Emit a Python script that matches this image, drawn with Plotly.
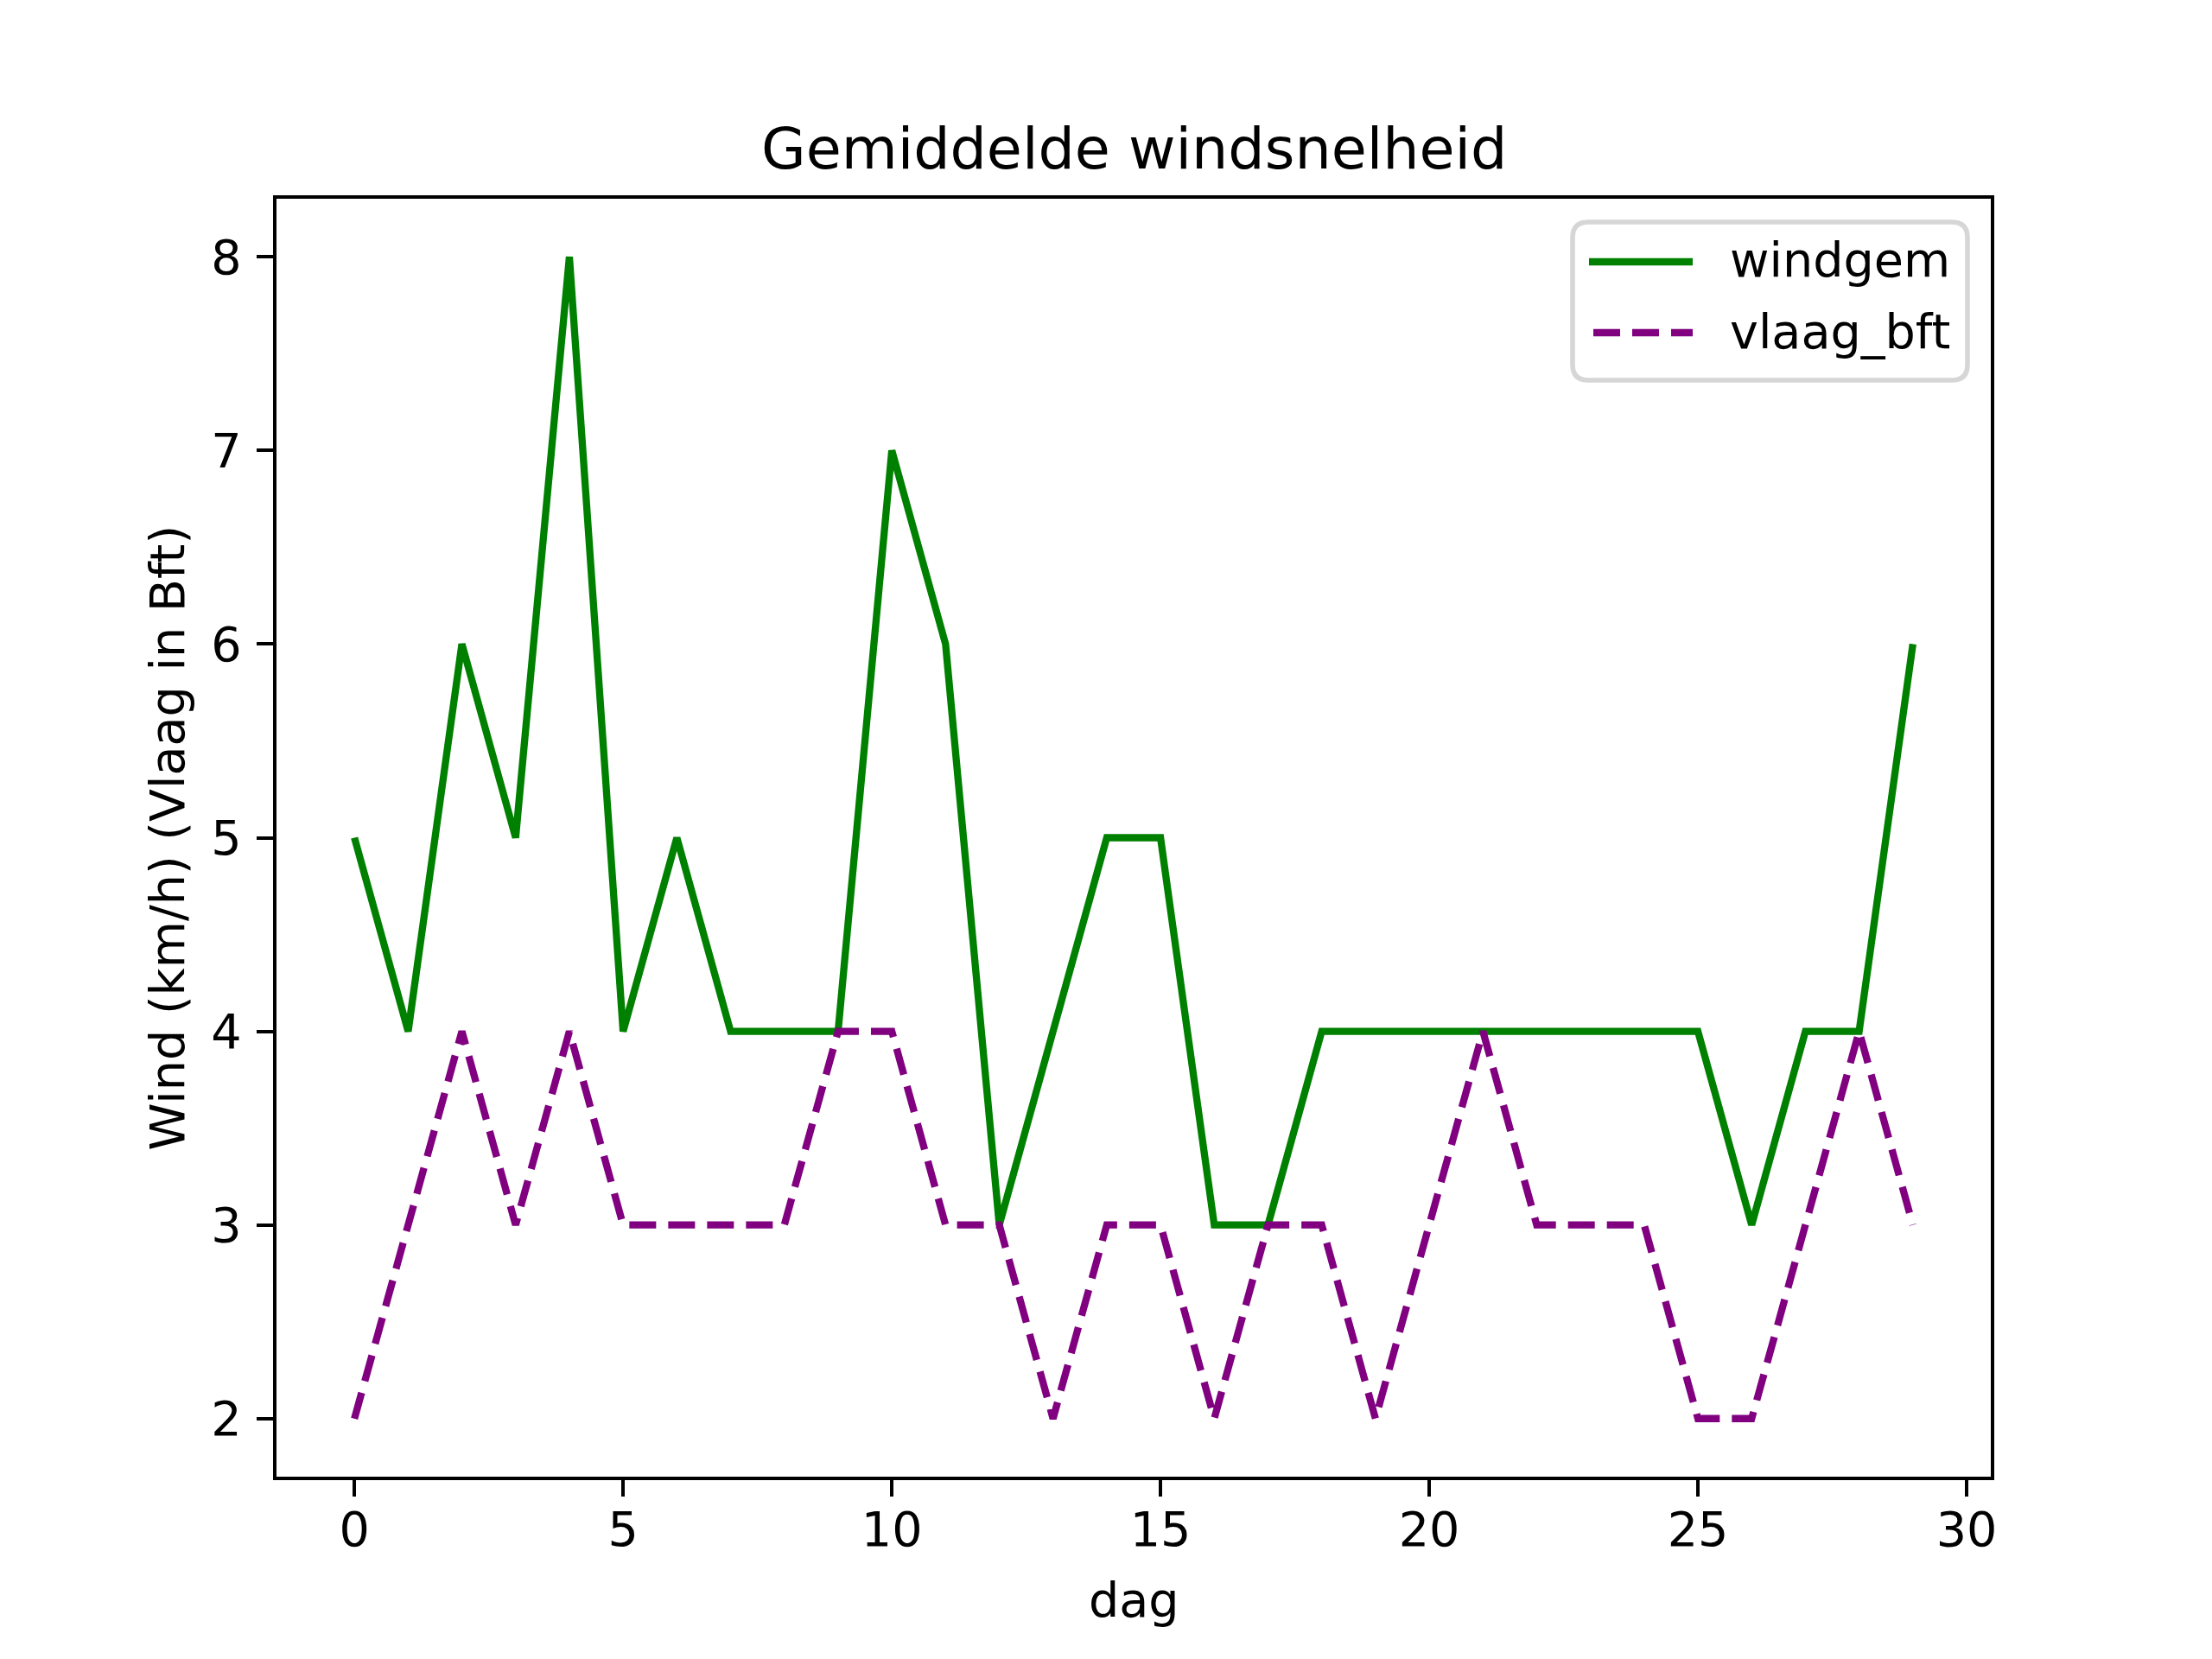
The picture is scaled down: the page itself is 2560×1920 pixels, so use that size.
import plotly.graph_objects as go

# Data
dag = list(range(30))
windgem = [5, 4, 6, 5, 8, 4, 5, 4, 4, 4, 7, 6, 3, 4, 5, 5, 3, 3, 4, 4,
           4, 4, 4, 4, 4, 4, 3, 4, 4, 6]
vlaag_bft = [2, 3, 4, 3, 4, 3, 3, 3, 3, 4, 4, 3, 3, 2, 3, 3, 2, 3, 3, 2,
             3, 4, 3, 3, 3, 2, 2, 3, 4, 3]

x_ticks = [0, 5, 10, 15, 20, 25, 30]
y_ticks = [2, 3, 4, 5, 6, 7, 8]

# Figure geometry (pixels), matplotlib-like defaults at 400 dpi
W, H = 2560, 1920
L, R, T, B = 320, 2304, 230, 1709
OFF = 8  # browser body margin

FONT = "DejaVu Sans"
FS = 55.6
LW = 8.3
GREEN = "#008000"
PURPLE = "#800080"


def px(x):
    return (x - L) / (R - L)


def py(y):
    return (B - y) / (B - T)


fig = go.Figure()

fig.add_trace(go.Scatter(
    x=dag, y=windgem, mode="lines", name="windgem",
    line=dict(color=GREEN, width=LW),
))
fig.add_trace(go.Scatter(
    x=dag, y=vlaag_bft, mode="lines", name="vlaag_bft",
    line=dict(color=PURPLE, width=LW, dash="31px,14px"),
))

axis_common = dict(
    showgrid=False, zeroline=False,
    showline=True, mirror=True, linecolor="black", linewidth=4.4,
    ticks="outside", ticklen=19, tickwidth=4.4, tickcolor="black",
    tickfont=dict(family=FONT, size=FS, color="black"),
)

fig.update_xaxes(range=[-1.45, 30.45], tickvals=x_ticks,
                 ticklabelstandoff=-10, **axis_common)
fig.update_yaxes(range=[1.7, 8.3], tickvals=y_ticks,
                 ticklabelstandoff=6, **axis_common)

# Legend drawn by hand so it looks like matplotlib's
bx0, bx1, by0, by1 = 1820, 2277, 257, 440
rx = 18 / (R - L)
ry = 18 / (B - T)
X0, X1, Y0, Y1 = px(bx0), px(bx1), py(by1), py(by0)
path = (
    f"M {X0 + rx},{Y0} L {X1 - rx},{Y0} Q {X1},{Y0} {X1},{Y0 + ry} "
    f"L {X1},{Y1 - ry} Q {X1},{Y1} {X1 - rx},{Y1} "
    f"L {X0 + rx},{Y1} Q {X0},{Y1} {X0},{Y1 - ry} "
    f"L {X0},{Y0 + ry} Q {X0},{Y0} {X0 + rx},{Y0} Z"
)
shapes = [
    dict(type="path", xref="paper", yref="paper", path=path,
         line=dict(color="#d6d6d6", width=5.6), fillcolor="rgba(255,255,255,0.8)"),
    dict(type="line", xref="paper", yref="paper",
         x0=px(1839), x1=px(1959), y0=py(303), y1=py(303),
         line=dict(color=GREEN, width=LW)),
    dict(type="line", xref="paper", yref="paper",
         x0=px(1844), x1=px(1959), y0=py(385), y1=py(385),
         line=dict(color=PURPLE, width=LW, dash="31px,14px")),
]

annotations = [
    dict(text="windgem", xref="paper", yref="paper", x=px(2000), y=py(300),
         xanchor="left", yanchor="middle", showarrow=False,
         font=dict(family=FONT, size=FS, color="black")),
    dict(text="vlaag_bft", xref="paper", yref="paper", x=px(2000), y=py(384),
         xanchor="left", yanchor="middle", showarrow=False,
         font=dict(family=FONT, size=FS, color="black")),
    dict(text="Gemiddelde windsnelheid", xref="paper", yref="paper",
         x=0.5, y=py(172), xanchor="center", yanchor="middle", showarrow=False,
         font=dict(family=FONT, size=66.7, color="black")),
    dict(text="dag", xref="paper", yref="paper",
         x=0.5, y=py(1851), xanchor="center", yanchor="middle", showarrow=False,
         font=dict(family=FONT, size=FS, color="black")),
    dict(text="Wind (km/h) (Vlaag in Bft)", xref="paper", yref="paper",
         x=px(193), y=0.5, xanchor="center", yanchor="middle", showarrow=False,
         textangle=-90, font=dict(family=FONT, size=FS, color="black")),
]

fig.update_layout(
    width=W - OFF, height=H - OFF, autosize=False,
    margin=dict(l=L - OFF, r=W - R, t=T - OFF, b=H - B, pad=0),
    plot_bgcolor="white", paper_bgcolor="white",
    showlegend=False,
    font=dict(family=FONT, size=FS, color="black"),
    shapes=shapes,
    annotations=annotations,
)

fig.write_html("out.html")
